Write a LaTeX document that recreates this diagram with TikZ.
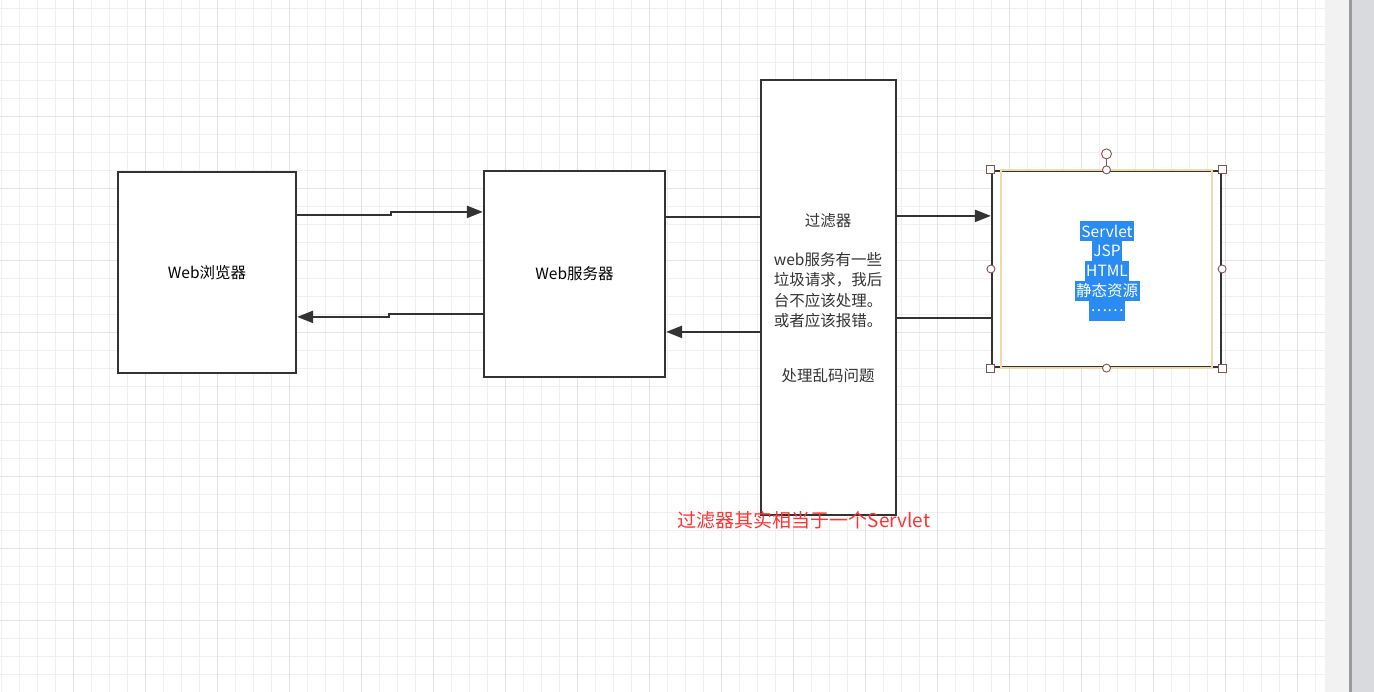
\documentclass[tikz,border=0pt]{standalone}
\usepackage{fontspec}
\setmainfont{Noto Sans CJK SC}
\usetikzlibrary{arrows.meta,positioning,calc}
\definecolor{gridA}{HTML}{F0F0F0}
\definecolor{gridB}{HTML}{E3E3E3}
\definecolor{lineC}{HTML}{333333}
\definecolor{selBlue}{HTML}{2A8BF2}
\definecolor{selTan}{HTML}{F3D9A9}
\definecolor{handC}{HTML}{8A4F4F}
\definecolor{noteRed}{HTML}{FF3333}
\definecolor{sideA}{HTML}{F2F2F2}
\definecolor{sideB}{HTML}{9A9A9E}
\definecolor{sideC}{HTML}{D9DADD}

\begin{document}
\begin{tikzpicture}[x=1pt,y=-1pt,
  box/.style={draw=lineC,line width=2.2pt,fill=white,inner sep=0pt,font=\fontsize{15.5}{18}\selectfont},
  arr/.style={draw=lineC,line width=2.2pt,-{Triangle[length=16pt,width=12pt]}},
  lnk/.style={draw=lineC,line width=2.2pt},
  txt/.style={text=lineC,font=\fontsize{15.5}{20.5}\selectfont,align=center,inner sep=0pt},
  sel/.style={fill=selBlue,text=white,font=\fontsize{15.5}{18}\selectfont,inner sep=1.5pt,minimum height=19.6pt},
  handsq/.style={draw=handC,fill=white,line width=0.9pt,minimum size=8pt,inner sep=0pt},
  handci/.style={circle,draw=handC,fill=white,line width=0.9pt,minimum size=8pt,inner sep=0pt}]
  % canvas
  \useasboundingbox (0,0) rectangle (1374,692);
  \fill[white] (0,0) rectangle (1325,692);
  \foreach \x in {1,19,...,1325} \draw[gridA,line width=0.8pt] (\x,0) -- (\x,692);
  \foreach \y in {8,26,...,692} \draw[gridA,line width=0.8pt] (0,\y) -- (1325,\y);
  \foreach \x in {73,145,...,1325} \draw[gridB,line width=0.8pt] (\x,0) -- (\x,692);
  \foreach \y in {44,116,...,692} \draw[gridB,line width=0.8pt] (0,\y) -- (1325,\y);
  \fill[sideA] (1325,0) rectangle (1349,692);
  \fill[sideB] (1349,0) rectangle (1352,692);
  \fill[sideC] (1352,0) rectangle (1374,692);
  % boxes
  \node[box,minimum width=178pt,minimum height=201pt] (brw) at (207,272.5) {Web浏览器};
  \node[box,minimum width=181pt,minimum height=206pt] (srv) at (574.5,274) {Web服务器};
  \node[box,minimum width=135pt,minimum height=435pt] (flt) at (828.5,297.5) {};
  \node[box,minimum width=229pt,minimum height=196pt] (res) at (1106.5,269) {};
  % filter texts
  \node[txt] (fname) at (828,221) {过滤器};
  \node[txt] (fnote) at (828,290) {web服务有一些\\垃圾请求，我后\\台不应该处理。\\或者应该报错。};
  \node[txt] (fcode) at (828,376) {处理乱码问题};
  % connectors
  \draw[arr] ($(brw.north east)+(0,44)$) -- ++(94,0) |- ($(srv.north west)+(0,42)$);
  \draw[arr] ($(srv.north west)+(0,144)$) -- ++(-94,0) |- ($(brw.north east)+(0,146)$);
  \draw[lnk] ($(srv.north east)+(0,47)$) -- ($(flt.north west)+(0,138)$);
  \draw[arr] ($(flt.north west)+(0,253)$) -- ($(srv.north east)+(0,162)$);
  \draw[arr] ($(flt.north east)+(0,137)$) -- ($(res.north west)+(0,46)$);
  \draw[lnk] ($(res.north west)+(0,148)$) -- ($(flt.north east)+(0,239)$);
  % selection of the resource box
  \draw[selTan,line width=2pt] ($(res.north west)+(10,0)$) rectangle ($(res.south east)+(-10,0)$);
  \draw[handC,line width=0.9pt] (res.north) -- ++(0,-16) node[handci,minimum size=10pt] (rot) {};
  \foreach \a in {north west,north east,south west,south east} \node[handsq] at (res.\a) {};
  \foreach \a in {north,south,west,east} \node[handci] at (res.\a) {};
  % resource texts
  \node[sel] (r1) at (1107,231) {Servlet};
  \node[sel,below=0pt of r1] (r2) {JSP};
  \node[sel,below=0pt of r2] (r3) {HTML};
  \node[sel,below=0pt of r3] (r4) {静态资源};
  \node[sel,below=0pt of r4] (r5) {……};
  % note
  \node[text=noteRed,font=\fontsize{19}{21}\selectfont,inner sep=0pt] (note) at (804,520) {过滤器其实相当于一个Servlet};
\end{tikzpicture}
\end{document}
